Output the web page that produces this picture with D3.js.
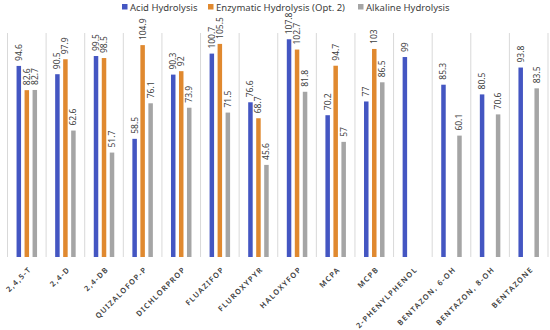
<!DOCTYPE html>
<html>
<head>
<meta charset="utf-8">
<script src="https://cdn.jsdelivr.net/npm/d3@7/dist/d3.min.js"></script>
<style>
  body { margin: 0; background: #fff; }
  svg { font-family: "Noto Sans", "Open Sans", sans-serif; }
</style>
</head>
<body>
<svg id="chart" width="550" height="330"></svg>
<script>
// chart data
var categories = ['2,4,5-T', '2,4-D', '2,4-DB', 'QUIZALOFOP-P', 'DICHLORPROP', 'FLUAZIFOP',
  'FLUROXYPYR', 'HALOXYFOP', 'MCPA', 'MCPB', '2-PHENYLPHENOL', 'BENTAZON, 6-OH',
  'BENTAZON, 8-OH', 'BENTAZONE'];
var seriesNames = ['Acid Hydrolysis', 'Enzymatic Hydrolysis (Opt. 2)', 'Alkaline Hydrolysis'];
var acid = [94.6, 90.5, 99.5, 58.5, 90.3, 100.7, 76.6, 107.8, 70.2, 77, 99, 85.3, 80.5, 93.8];
var enzymatic = [82.6, 97.9, 98.5, 104.9, 92, 105.5, 68.7, 102.7, 94.7, 103, null, null, null, null];
var alkaline = [82.7, 62.6, 51.7, 76.1, 73.9, 71.5, 45.6, 81.8, 57, 86.5, null, 60.1, 70.6, 83.5];
var colors = ['#4456c2', '#e0892f', '#a5a5a5'];

var series = [acid, enzymatic, alkaline];

var svg = d3.select('#chart');
var margin = {top: 33, right: 2, bottom: 73, left: 7.5},
    width = 550, height = 330;

var x0 = d3.scaleBand()
  .domain(categories)
  .range([margin.left, width - margin.right]);

var y = d3.scaleLinear()
  .domain([0, 110.9])
  .range([height - margin.bottom, margin.top]);

var bw = x0.bandwidth();
var x1 = d3.scaleBand()
  .domain(seriesNames)
  .range([bw / 2 - 10.25, bw / 2 + 10.25])
  .paddingInner(0.4375);

// vertical separators between categories
var seps = categories.map(function(c){ return x0(c); }).concat([x0.range()[1]]);
svg.append('g')
  .selectAll('line')
  .data(seps)
  .enter().append('line')
  .attr('x1', function(d){ return d; })
  .attr('x2', function(d){ return d; })
  .attr('y1', y.range()[1])
  .attr('y2', y(0))
  .attr('stroke', '#d9d9d9')
  .attr('stroke-width', 1);

var groups = svg.append('g')
  .selectAll('g')
  .data(categories)
  .enter().append('g')
  .attr('transform', function(d){ return 'translate(' + x0(d) + ',0)'; });

seriesNames.forEach(function(name, si){
  var vals = series[si];
  groups.filter(function(d, i){ return vals[i] != null; })
    .each(function(d){
      var i = categories.indexOf(d);
      var v = vals[i];
      var g = d3.select(this);
      g.append('rect')
        .attr('x', x1(name))
        .attr('y', y(v))
        .attr('width', x1.bandwidth())
        .attr('height', y(0) - y(v))
        .attr('fill', colors[si]);
      var cx = x1(name) + x1.bandwidth() / 2 + 3;
      g.append('text')
        .attr('transform', 'translate(' + cx + ',' + (y(v) - 5) + ') rotate(-90)')
        .attr('font-size', 8.5)
        .attr('fill', '#404040')
        .text(v);
    });
});

// category labels
svg.append('g')
  .selectAll('text')
  .data(categories)
  .enter().append('text')
  .attr('transform', function(d){
    return 'translate(' + (x0(d) + bw / 2 + 5) + ',' + (y(0) + 13) + ') rotate(-45)';
  })
  .attr('text-anchor', 'end')
  .attr('font-size', 7.5)
  .attr('font-weight', 600)
  .attr('letter-spacing', 1.2)
  .attr('fill', '#404040')
  .text(function(d){ return d; });

// legend
var legendX = [122, 208, 358];
var legend = svg.append('g')
  .selectAll('g')
  .data(seriesNames)
  .enter().append('g')
  .attr('transform', function(d, i){ return 'translate(' + legendX[i] + ',3)'; });
legend.append('rect')
  .attr('width', 5.5)
  .attr('height', 5.5)
  .attr('y', 1)
  .attr('fill', function(d, i){ return colors[i]; });
legend.append('text')
  .attr('x', 8)
  .attr('y', 7.5)
  .attr('font-size', 9.5)
  .attr('fill', '#404040')
  .text(function(d){ return d; });
</script>
</body>
</html>
